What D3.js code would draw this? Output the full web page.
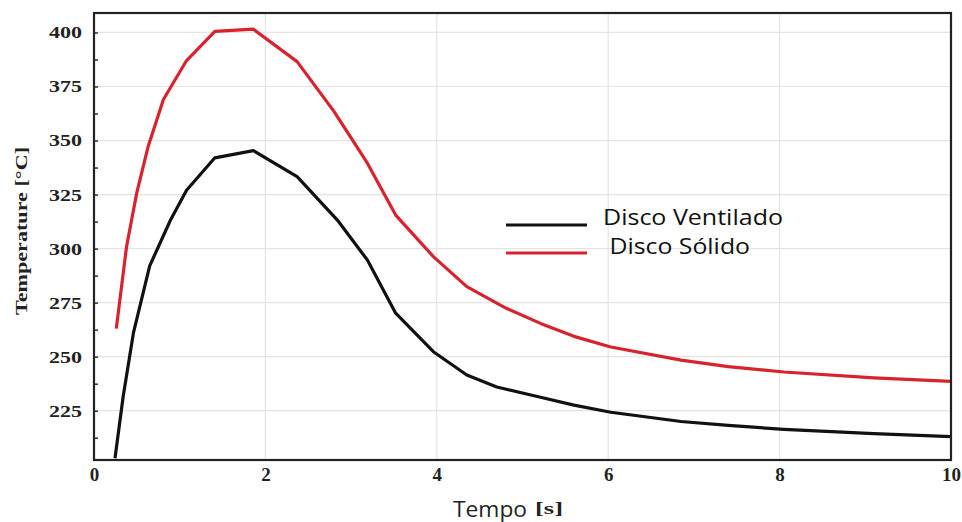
<!DOCTYPE html>
<html>
<head>
<meta charset="utf-8">
<script src="https://cdn.jsdelivr.net/npm/d3@7"></script>
<style>
  body { margin: 0; background: #fff; }
  svg { display: block; }
</style>
</head>
<body>
<div id="chart"></div>
<script>
// Data
var timeVentilado = [0.245, 0.34, 0.46, 0.65, 0.89, 1.08, 1.41, 1.86, 2.37, 2.84, 3.19, 3.52, 3.96, 4.35, 4.7, 5.21, 5.6, 6.03, 6.85, 7.4, 8.05, 9.1, 10];
var tempVentilado = [203, 231.5, 261, 292, 313, 327, 342, 345.3, 333.3, 313.2, 294.7, 270.1, 252.3, 241.5, 236, 231.2, 227.6, 224.3, 220, 218.2, 216.4, 214.4, 213];
var timeSolido = [0.26, 0.38, 0.5, 0.63, 0.81, 1.08, 1.41, 1.86, 2.37, 2.8, 3.19, 3.52, 3.96, 4.35, 4.8, 5.21, 5.6, 6.03, 6.85, 7.4, 8.05, 9.1, 10];
var tempSolido = [263, 301, 326, 347, 369, 387, 400.5, 401.5, 386.5, 363.5, 339.5, 315.5, 296.3, 282.4, 272.6, 265.4, 259.4, 254.5, 248.4, 245.4, 242.9, 240.2, 238.6];
var xTicks = [0, 2, 4, 6, 8, 10];
var yTicks = [225, 250, 275, 300, 325, 350, 375, 400];
var seriesNames = ["Disco Ventilado", " Disco Sólido"];

var W = 962, H = 522;
var margin = { top: 13, right: 11, bottom: 62, left: 94 };
var width = W - margin.left - margin.right,
    height = H - margin.top - margin.bottom;

var svg = d3.select("#chart").append("svg")
    .attr("width", W)
    .attr("height", H);

var g = svg.append("g")
    .attr("transform", `translate(${margin.left}, ${margin.top})`);

var x = d3.scaleLinear().domain([0, 10]).range([0, width]);
var y = d3.scaleLinear().domain([202.2, 409]).range([height, 0]);

// grid
g.selectAll(".hgrid").data(yTicks).enter().append("line")
    .attr("x1", 0).attr("x2", width)
    .attr("y1", d => y(d)).attr("y2", d => y(d))
    .attr("stroke", "#e4e4e4").attr("stroke-width", 1.2);
g.selectAll(".vgrid").data(xTicks.slice(1, -1)).enter().append("line")
    .attr("y1", 0).attr("y2", height)
    .attr("x1", d => x(d)).attr("x2", d => x(d))
    .attr("stroke", "#e4e4e4").attr("stroke-width", 1.2);

// lines
var line = d3.line().x(d => x(d[0])).y(d => y(d[1]));
var ventilado = timeVentilado.map((t, i) => [t, tempVentilado[i]]);
var solido = timeSolido.map((t, i) => [t, tempSolido[i]]);

g.append("path").datum(solido)
    .attr("d", line).attr("fill", "none")
    .attr("stroke", "#d8232f").attr("stroke-width", 3.2)
    .attr("stroke-linejoin", "round");
g.append("path").datum(ventilado)
    .attr("d", line).attr("fill", "none")
    .attr("stroke", "#111").attr("stroke-width", 3.2)
    .attr("stroke-linejoin", "round");

// minor y ticks
var minor = d3.range(212.5, 409, 12.5);
g.append("g")
    .call(d3.axisLeft(y).tickValues(minor).tickSize(-4).tickFormat(""))
    .call(a => a.select(".domain").remove())
    .selectAll("line").attr("stroke", "#333").attr("stroke-width", 1.5);

// y axis
var yAxis = g.append("g")
    .call(d3.axisLeft(y).tickValues(yTicks).tickSize(0).tickPadding(12));
yAxis.select(".domain").remove();
yAxis.selectAll("text")
    .style("font-family", "'Liberation Serif', serif")
    .style("font-weight", "bold")
    .style("font-size", "17px")
    .attr("fill", "#222")
    .attr("textLength", 33)
    .attr("lengthAdjust", "spacingAndGlyphs");

// x axis
var xAxis = g.append("g")
    .attr("transform", `translate(0, ${height})`)
    .call(d3.axisBottom(x).tickValues(xTicks).tickSize(0).tickPadding(8));
xAxis.select(".domain").remove();
xAxis.selectAll("text")
    .style("font-family", "'Liberation Serif', serif")
    .style("font-weight", "bold")
    .style("font-size", "19px")
    .attr("fill", "#222");

// frame
g.append("rect")
    .attr("width", width).attr("height", height)
    .attr("fill", "none").attr("stroke", "#222").attr("stroke-width", 2.2);

// axis titles
svg.append("text")
    .attr("transform", "translate(27, 231) rotate(-90)")
    .attr("text-anchor", "middle")
    .style("font-family", "'Liberation Serif', serif")
    .style("font-weight", "bold")
    .style("font-size", "17px")
    .attr("fill", "#222")
    .attr("textLength", 168)
    .attr("lengthAdjust", "spacingAndGlyphs")
    .text("Temperature [°C]");

svg.append("text")
    .attr("x", 453).attr("y", 517)
    .attr("fill", "#222")
    .style("font-family", "'Open Sans', sans-serif")
    .style("font-size", "22px")
    .attr("textLength", 74)
    .attr("lengthAdjust", "spacingAndGlyphs")
    .text("Tempo");
svg.append("text")
    .attr("x", 535).attr("y", 514)
    .attr("fill", "#222")
    .style("font-family", "'Liberation Serif', serif")
    .style("font-weight", "bold")
    .style("font-size", "16px")
    .attr("textLength", 28)
    .attr("lengthAdjust", "spacingAndGlyphs")
    .text("[s]");

// legend
var legendColors = ["#111", "#d8232f"];
var legendWidths = [180, 147];
var legend = svg.append("g");
legend.selectAll("line").data(seriesNames).enter().append("line")
    .attr("x1", 506).attr("x2", 587)
    .attr("y1", (d, i) => 225 + i * 28).attr("y2", (d, i) => 225 + i * 28)
    .attr("stroke", (d, i) => legendColors[i]).attr("stroke-width", 3.2);
legend.selectAll("text").data(seriesNames).enter().append("text")
    .attr("x", 603)
    .attr("y", (d, i) => 225 + i * 29)
    .attr("xml:space", "preserve")
    .style("white-space", "pre")
    .style("font-family", "'Open Sans', sans-serif")
    .style("font-size", "22px")
    .attr("fill", "#111")
    .attr("textLength", (d, i) => legendWidths[i])
    .attr("lengthAdjust", "spacingAndGlyphs")
    .text(d => d);
</script>
</body>
</html>
